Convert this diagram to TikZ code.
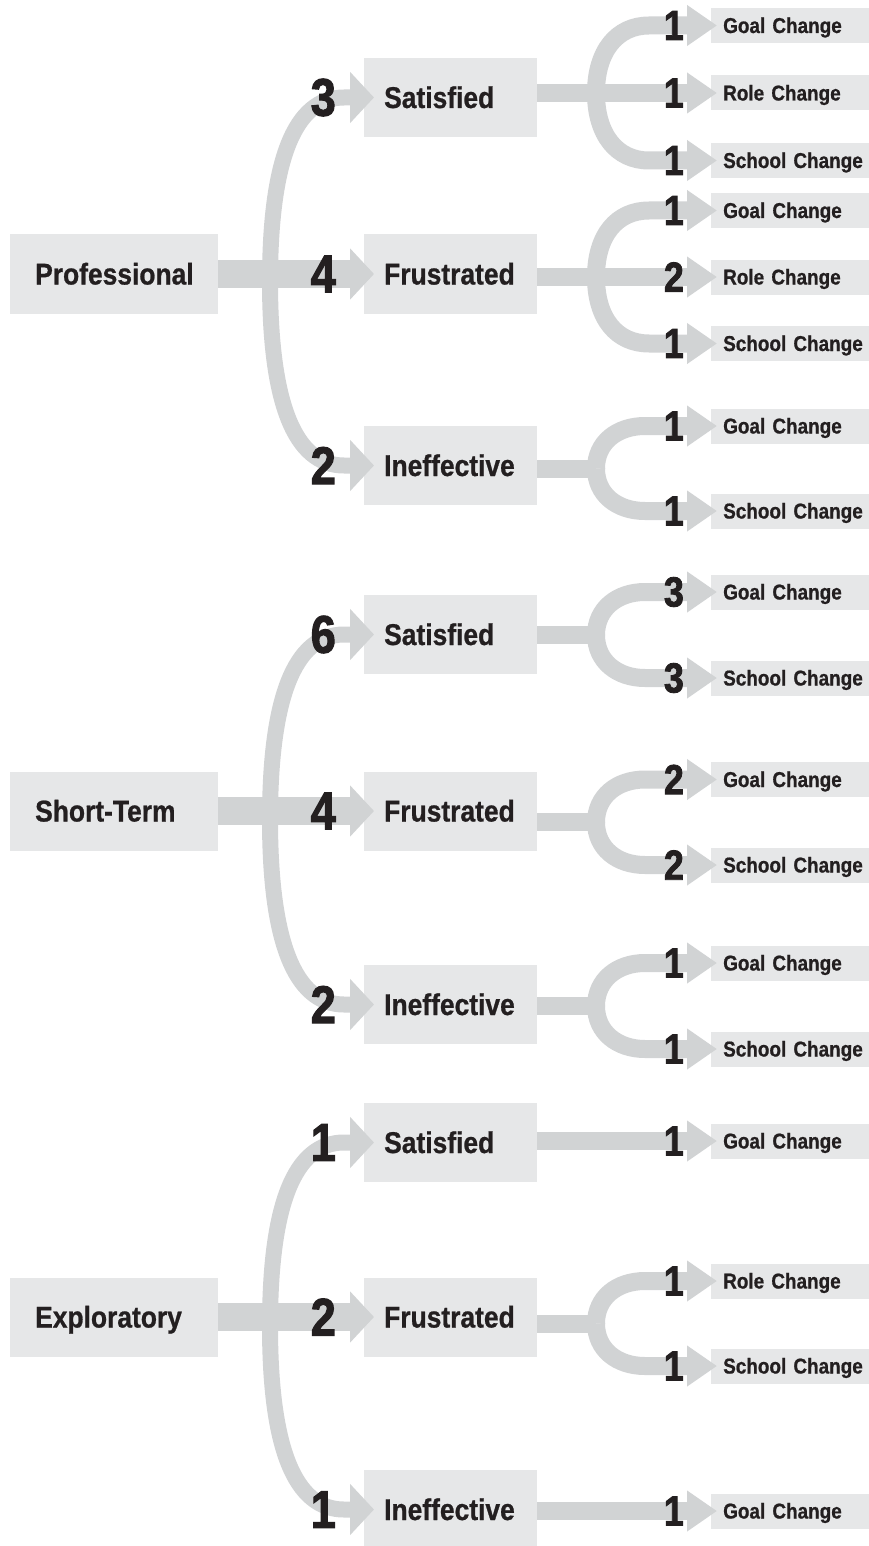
\documentclass[tikz,border=0pt]{standalone}
\usepackage{fontspec}
\setmainfont{Liberation Sans}[FakeStretch=0.88,BoldFeatures={FakeBold=0.8}]
\newfontfamily\numfont{Liberation Sans}[FakeStretch=0.85,BoldFeatures={FakeBold=2}]
\usetikzlibrary{arrows.meta}
\usetikzlibrary{positioning}
\definecolor{boxgray}{RGB}{230,231,232}
\definecolor{bandgray}{RGB}{209,211,212}
\definecolor{inkblack}{RGB}{35,31,32}

\begin{document}
\begin{tikzpicture}[x=1pt,y=-1pt,
	rootbox/.style={fill=boxgray,anchor=west,text width=158pt,inner xsep=25pt,inner ysep=0pt,minimum height=79pt,align=left,text height=21pt,text depth=0pt,text=inkblack,font=\fontsize{30}{30}\selectfont\bfseries},
	midbox/.style={fill=boxgray,anchor=west,text width=133pt,inner xsep=20pt,inner ysep=0pt,minimum height=79pt,align=left,text height=21pt,text depth=0pt,text=inkblack,font=\fontsize{30}{30}\selectfont\bfseries},
	leafbox/.style={fill=boxgray,anchor=west,text width=146pt,inner xsep=12pt,inner ysep=0pt,minimum height=35pt,align=left,text height=15pt,text depth=0pt,text=inkblack,font=\fontsize{21.5}{22}\selectfont\bfseries},
	bignum/.style={inner sep=0pt,text=inkblack,font=\numfont\fontsize{53}{53}\selectfont\bfseries},
	leafnum/.style={inner sep=0pt,text=inkblack,font=\numfont\fontsize{42}{42}\selectfont\bfseries},
	trunk/.style={draw=bandgray,line width=16pt},
	rootbar/.style={draw=bandgray,line width=28pt},
	band/.style={draw=bandgray,line width=18pt},
	midtip/.style={-{Triangle[length=24pt,width=50pt]}},
	leaftip/.style={-{Triangle[length=30pt,width=39pt]}}]
		\useasboundingbox (0,0) rectangle (869,1546);

		\node[rootbox] (prof) at (10,274) {Professional};
		\node[midbox] (ps) at (364,97.5) {Satisfied};
		\node[midbox] (pf) at (364,274) {Frustrated};
		\node[midbox] (pi) at (364,465.5) {Ineffective};
		\node[leafbox] (psg) at (711,25.5) {Goal Change};
		\node[leafbox] (psr) at (711,93) {Role Change};
		\node[leafbox] (pss) at (711,160.5) {School Change};
		\node[leafbox] (pfg) at (711,210.5) {Goal Change};
		\node[leafbox] (pfr) at (711,277) {Role Change};
		\node[leafbox] (pfs) at (711,343.5) {School Change};
		\node[leafbox] (pig) at (711,426) {Goal Change};
		\node[leafbox] (pis) at (711,511) {School Change};

		\node[rootbox] (shrt) at (10,811) {Short-Term};
		\node[midbox] (ss) at (364,634.5) {Satisfied};
		\node[midbox] (sf) at (364,811) {Frustrated};
		\node[midbox] (si) at (364,1004.5) {Ineffective};
		\node[leafbox] (ssg) at (711,592) {Goal Change};
		\node[leafbox] (sss) at (711,678) {School Change};
		\node[leafbox] (sfg) at (711,779.5) {Goal Change};
		\node[leafbox] (sfs) at (711,865) {School Change};
		\node[leafbox] (sig) at (711,963) {Goal Change};
		\node[leafbox] (sis) at (711,1049) {School Change};

		\node[rootbox] (expl) at (10,1317) {Exploratory};
		\node[midbox] (es) at (364,1142.5) {Satisfied};
		\node[midbox] (ef) at (364,1317) {Frustrated};
		\node[midbox] (ei) at (364,1509.5) {Ineffective};
		\node[leafbox] (esg) at (711,1141) {Goal Change};
		\node[leafbox] (efr) at (711,1281) {Role Change};
		\node[leafbox] (efs) at (711,1366) {School Change};
		\node[leafbox] (eig) at (711,1511) {Goal Change};

		\coordinate (p-j) at (270,281.5);
		\coordinate (s-j) at (270,819.5);
		\coordinate (e-j) at (270,1326);
		\coordinate (ps-j) at (596,93);
		\coordinate (pf-j) at (596,277);
		\coordinate (pi-j) at (596,468.5);
		\coordinate (ss-j) at (596,635);
		\coordinate (sf-j) at (596,822.25);
		\coordinate (si-j) at (596,1006);
		\coordinate (ef-j) at (596,1323.5);

		\draw[trunk,midtip] (p-j) .. controls +(0,-120) and +(-50,0) .. ([xshift=-20]ps.west) -- ([xshift=10]ps.west);
		\draw[trunk,midtip] (p-j) .. controls +(0,120) and +(-50,0) .. ([xshift=-20]pi.west) -- ([xshift=10]pi.west);
		\draw[rootbar,midtip] (prof.east) -- ([xshift=10]pf.west);
		\draw[trunk,midtip] (s-j) .. controls +(0,-120) and +(-50,0) .. ([xshift=-20]ss.west) -- ([xshift=10]ss.west);
		\draw[trunk,midtip] (s-j) .. controls +(0,120) and +(-50,0) .. ([xshift=-20]si.west) -- ([xshift=10]si.west);
		\draw[rootbar,midtip] (shrt.east) -- ([xshift=10]sf.west);
		\draw[trunk,midtip] (e-j) .. controls +(0,-120) and +(-50,0) .. ([xshift=-20]es.west) -- ([xshift=10]es.west);
		\draw[trunk,midtip] (e-j) .. controls +(0,120) and +(-50,0) .. ([xshift=-20]ei.west) -- ([xshift=10]ei.west);
		\draw[rootbar,midtip] (expl.east) -- ([xshift=10]ef.west);

		\draw[band,leaftip] (ps.east |- psr.west) -- ([xshift=6]psr.west);
		\draw[band,leaftip] (ps-j) .. controls +(0,-42) and +(-32,0) .. ([xshift=-62]psg.west) -- ([xshift=6]psg.west);
		\draw[band,leaftip] (ps-j) .. controls +(0,42) and +(-32,0) .. ([xshift=-62]pss.west) -- ([xshift=6]pss.west);
		\draw[band,leaftip] (pf.east |- pfr.west) -- ([xshift=6]pfr.west);
		\draw[band,leaftip] (pf-j) .. controls +(0,-42) and +(-32,0) .. ([xshift=-62]pfg.west) -- ([xshift=6]pfg.west);
		\draw[band,leaftip] (pf-j) .. controls +(0,42) and +(-32,0) .. ([xshift=-62]pfs.west) -- ([xshift=6]pfs.west);
		\draw[band] (pi.east |- pi-j) -- (pi-j);
		\draw[band,leaftip] (pi-j) .. controls +(0,-26) and +(-28,0) .. ([xshift=-66]pig.west) -- ([xshift=6]pig.west);
		\draw[band,leaftip] (pi-j) .. controls +(0,26) and +(-28,0) .. ([xshift=-66]pis.west) -- ([xshift=6]pis.west);

		\draw[band] (ss.east |- ss-j) -- (ss-j);
		\draw[band,leaftip] (ss-j) .. controls +(0,-26) and +(-28,0) .. ([xshift=-66]ssg.west) -- ([xshift=6]ssg.west);
		\draw[band,leaftip] (ss-j) .. controls +(0,26) and +(-28,0) .. ([xshift=-66]sss.west) -- ([xshift=6]sss.west);
		\draw[band] (sf.east |- sf-j) -- (sf-j);
		\draw[band,leaftip] (sf-j) .. controls +(0,-26) and +(-28,0) .. ([xshift=-66]sfg.west) -- ([xshift=6]sfg.west);
		\draw[band,leaftip] (sf-j) .. controls +(0,26) and +(-28,0) .. ([xshift=-66]sfs.west) -- ([xshift=6]sfs.west);
		\draw[band] (si.east |- si-j) -- (si-j);
		\draw[band,leaftip] (si-j) .. controls +(0,-26) and +(-28,0) .. ([xshift=-66]sig.west) -- ([xshift=6]sig.west);
		\draw[band,leaftip] (si-j) .. controls +(0,26) and +(-28,0) .. ([xshift=-66]sis.west) -- ([xshift=6]sis.west);

		\draw[band,leaftip] (es.east |- esg.west) -- ([xshift=6]esg.west);
		\draw[band] (ef.east |- ef-j) -- (ef-j);
		\draw[band,leaftip] (ef-j) .. controls +(0,-26) and +(-28,0) .. ([xshift=-66]efr.west) -- ([xshift=6]efr.west);
		\draw[band,leaftip] (ef-j) .. controls +(0,26) and +(-28,0) .. ([xshift=-66]efs.west) -- ([xshift=6]efs.west);
		\draw[band,leaftip] (ei.east |- eig.west) -- ([xshift=6]eig.west);

		\node[bignum,left=28pt of ps.west] (ps-n) {3};
		\node[bignum,left=28pt of pf.west] (pf-n) {4};
		\node[bignum,left=28pt of pi.west] (pi-n) {2};
		\node[bignum,left=28pt of ss.west] (ss-n) {6};
		\node[bignum,left=28pt of sf.west] (sf-n) {4};
		\node[bignum,left=28pt of si.west] (si-n) {2};
		\node[bignum,left=28pt of es.west] (es-n) {1};
		\node[bignum,left=28pt of ef.west] (ef-n) {2};
		\node[bignum,left=28pt of ei.west] (ei-n) {1};

		\node[leafnum,left=27pt of psg.west] (psg-n) {1};
		\node[leafnum,left=27pt of psr.west] (psr-n) {1};
		\node[leafnum,left=27pt of pss.west] (pss-n) {1};
		\node[leafnum,left=27pt of pfg.west] (pfg-n) {1};
		\node[leafnum,left=27pt of pfr.west] (pfr-n) {2};
		\node[leafnum,left=27pt of pfs.west] (pfs-n) {1};
		\node[leafnum,left=27pt of pig.west] (pig-n) {1};
		\node[leafnum,left=27pt of pis.west] (pis-n) {1};
		\node[leafnum,left=27pt of ssg.west] (ssg-n) {3};
		\node[leafnum,left=27pt of sss.west] (sss-n) {3};
		\node[leafnum,left=27pt of sfg.west] (sfg-n) {2};
		\node[leafnum,left=27pt of sfs.west] (sfs-n) {2};
		\node[leafnum,left=27pt of sig.west] (sig-n) {1};
		\node[leafnum,left=27pt of sis.west] (sis-n) {1};
		\node[leafnum,left=27pt of esg.west] (esg-n) {1};
		\node[leafnum,left=27pt of efr.west] (efr-n) {1};
		\node[leafnum,left=27pt of efs.west] (efs-n) {1};
		\node[leafnum,left=27pt of eig.west] (eig-n) {1};
	\end{tikzpicture}
\end{document}
